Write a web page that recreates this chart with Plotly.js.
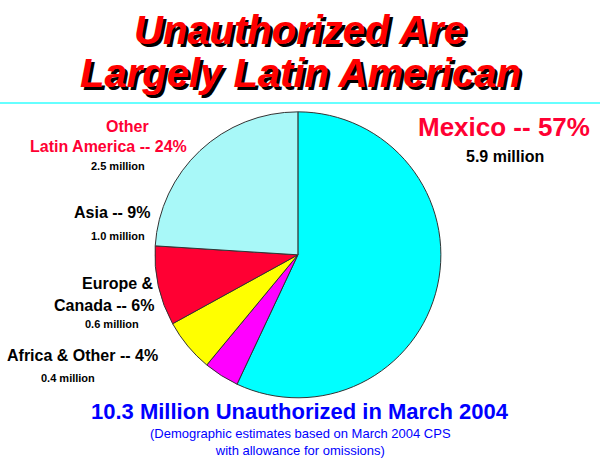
<!DOCTYPE html>
<html>
<head>
<script src="https://cdn.plot.ly/plotly-3.0.1.min.js"></script>
<style>body{margin:0}#chart{width:600px;height:468px}</style>
</head>
<body>
<div id="chart"></div>
<script>
var regions = ['Mexico', 'Africa & Other', 'Europe & Canada', 'Asia', 'Other Latin America'];
var shares = [57, 4, 6, 9, 24];
var colors = ['#00ffff', '#ff00ff', '#ffff00', '#ff0033', '#a8f8f8'];

var pie = {
    type: 'pie',
    labels: regions,
    values: shares,
    sort: false,
    direction: 'clockwise',
    rotation: 0,
    textinfo: 'none',
    hoverinfo: 'label+percent',
    marker: {colors: colors, line: {color: '#333', width: 1}},
    domain: {x: [0.258, 0.735], y: [0.15, 0.761]}
};

function ann(x, y, text, size, color, anchor) {
    return {xref: 'paper', yref: 'paper', x: x, y: y, text: text, showarrow: false,
        xanchor: anchor || 'right', yanchor: 'middle',
        font: {family: 'Arial, Liberation Sans', size: size, color: color, weight: 'bold'}};
}

var titleFont = {family: 'Arial, Liberation Sans', size: 40, color: '#ff0000', weight: 'bold',
    style: 'italic', shadow: '3px 3px 0px #000'};

var layout = {
    width: 600, height: 468,
    margin: {l: 0, r: 0, t: 0, b: 0},
    showlegend: false,
    paper_bgcolor: '#fff',
    shapes: [{type: 'line', xref: 'paper', yref: 'paper', x0: 0, x1: 1, y0: 0.78, y1: 0.78,
        line: {color: '#66ffff', width: 2}}],
    annotations: [
        {xref: 'paper', yref: 'paper', x: 0.5, y: 0.935, yanchor: 'middle', text: 'Unauthorized Are', showarrow: false, font: titleFont},
        {xref: 'paper', yref: 'paper', x: 0.5, y: 0.845, yanchor: 'middle', text: 'Largely Latin American', showarrow: false, font: titleFont},
        ann(0.987, 0.728, 'Mexico -- 57%', 26, '#ff0033'),
        ann(0.91, 0.666, '5.9 million', 16, '#000'),
        ann(0.213, 0.73, 'Other', 16, '#ff0033', 'center'),
        ann(0.315, 0.688, 'Latin America -- 24%', 16, '#ff0033'),
        ann(0.197, 0.645, '2.5 million', 11, '#000', 'center'),
        ann(0.253, 0.545, 'Asia -- 9%', 16, '#000'),
        ann(0.197, 0.496, '1.0 million', 11, '#000', 'center'),
        ann(0.26, 0.395, 'Europe &', 16, '#000'),
        ann(0.26, 0.348, 'Canada -- 6%', 16, '#000'),
        ann(0.187, 0.308, '0.6 million', 11, '#000', 'center'),
        ann(0.267, 0.24, 'Africa & Other -- 4%', 16, '#000'),
        ann(0.113, 0.193, '0.4 million', 11, '#000', 'center'),
        ann(0.5, 0.12, '10.3 Million Unauthorized in March 2004', 22, '#0000ff', 'center'),
        {xref: 'paper', yref: 'paper', x: 0.5, y: 0.055, yanchor: 'middle', showarrow: false,
            text: '(Demographic estimates based on March 2004 CPS<br>with allowance for omissions)',
            font: {family: 'Arial, Liberation Sans', size: 13, color: '#0000ff'}}
    ]
};

Plotly.newPlot('chart', [pie], layout, {displayModeBar: false});
</script>
</body>
</html>
